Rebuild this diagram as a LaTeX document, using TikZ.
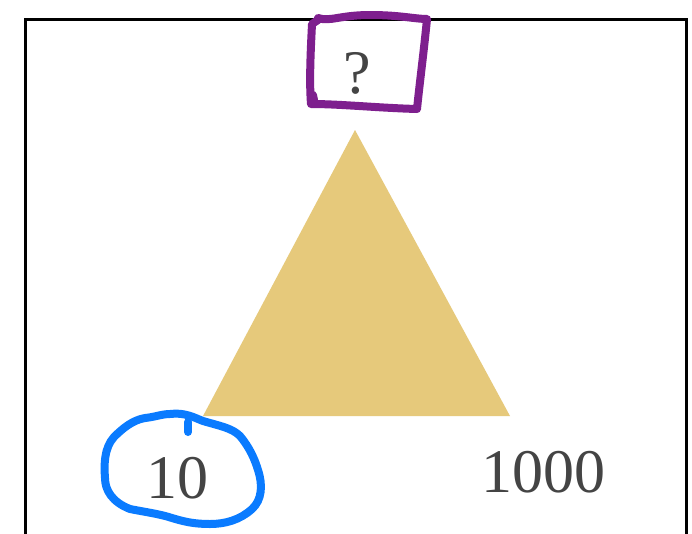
\documentclass[tikz,border=0pt]{standalone}
\usepackage{fontspec}
\setmainfont{Liberation Serif}
\definecolor{tri}{HTML}{E6C97B}
\definecolor{txt}{HTML}{444444}
\definecolor{pur}{HTML}{7E1F8E}
\definecolor{blu}{HTML}{0A7BFF}
\tikzset{
  lbl/.style={text=txt, font=\fontsize{62}{62}\selectfont, inner sep=0pt, anchor=base},
  pen/.style={line width=8pt, line cap=round, line join=round},
}
\begin{document}
\begin{tikzpicture}[x=1pt,y=-1pt]
\useasboundingbox (0,0) rectangle (692,533);
\fill[white] (0,0) rectangle (692,533);
\draw[line width=3pt] (25.5,600) -- (25.5,19.5) -- (686.5,19.5) -- (686.5,600);
\fill[tri] (355,130) -- (510,416) -- (203,416) -- cycle;
\node[lbl] (q) at (357,93) {?};
\node[lbl] (ten) at (177,498) {10};
\node[lbl] (thou) at (543,492) {1000};
\draw[pen, pur] (318,18) .. controls (330,22) and (340,15) .. (370,15)
  .. controls (400,15) and (415,19) .. (427,19)
  .. controls (424,50) and (420,80) .. (417,109)
  .. controls (380,108) and (340,104) .. (311,104)
  .. controls (309,80) and (311,45) .. (312,24) -- (318,20);
\draw[pen, pur] (313,95) -- (314,100);
\draw[pen, blu] (170,414) .. controls (185,412) and (195,418) .. (203,421)
  .. controls (220,426) and (232,428) .. (240,436)
  .. controls (250,448) and (255,460) .. (258,470)
  .. controls (263,485) and (262,500) .. (252,509)
  .. controls (240,520) and (225,524) .. (210,524)
  .. controls (195,524) and (185,522) .. (172,518)
  .. controls (160,514) and (145,512) .. (130,509)
  .. controls (112,502) and (105,490) .. (105,478)
  .. controls (104,465) and (104,448) .. (114,437)
  .. controls (123,428) and (133,420) .. (145,418)
  .. controls (155,417) and (162,414) .. (170,414);
\draw[pen, blu] (188,422) -- (188,432);
\end{tikzpicture}
\end{document}
